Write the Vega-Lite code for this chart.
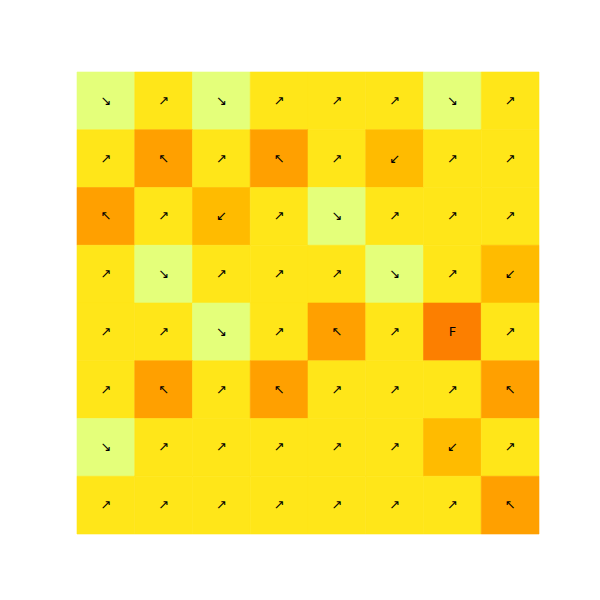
{
  "$schema": "https://vega.github.io/schema/vega-lite/v6.json",
  "autosize": {"type": "none"},
  "padding": {"left": 77, "top": 72, "right": 61, "bottom": 66},
  "width": 462,
  "height": 462,
  "background": "white",
  "config": {"view": {"stroke": null}},
  "data": {"values": [
    {"r":0,"c":0,"a":"↘"},{"r":0,"c":1,"a":"↗"},{"r":0,"c":2,"a":"↘"},{"r":0,"c":3,"a":"↗"},{"r":0,"c":4,"a":"↗"},{"r":0,"c":5,"a":"↗"},{"r":0,"c":6,"a":"↘"},{"r":0,"c":7,"a":"↗"},
    {"r":1,"c":0,"a":"↗"},{"r":1,"c":1,"a":"↖"},{"r":1,"c":2,"a":"↗"},{"r":1,"c":3,"a":"↖"},{"r":1,"c":4,"a":"↗"},{"r":1,"c":5,"a":"↙"},{"r":1,"c":6,"a":"↗"},{"r":1,"c":7,"a":"↗"},
    {"r":2,"c":0,"a":"↖"},{"r":2,"c":1,"a":"↗"},{"r":2,"c":2,"a":"↙"},{"r":2,"c":3,"a":"↗"},{"r":2,"c":4,"a":"↘"},{"r":2,"c":5,"a":"↗"},{"r":2,"c":6,"a":"↗"},{"r":2,"c":7,"a":"↗"},
    {"r":3,"c":0,"a":"↗"},{"r":3,"c":1,"a":"↘"},{"r":3,"c":2,"a":"↗"},{"r":3,"c":3,"a":"↗"},{"r":3,"c":4,"a":"↗"},{"r":3,"c":5,"a":"↘"},{"r":3,"c":6,"a":"↗"},{"r":3,"c":7,"a":"↙"},
    {"r":4,"c":0,"a":"↗"},{"r":4,"c":1,"a":"↗"},{"r":4,"c":2,"a":"↘"},{"r":4,"c":3,"a":"↗"},{"r":4,"c":4,"a":"↖"},{"r":4,"c":5,"a":"↗"},{"r":4,"c":6,"a":"F"},{"r":4,"c":7,"a":"↗"},
    {"r":5,"c":0,"a":"↗"},{"r":5,"c":1,"a":"↖"},{"r":5,"c":2,"a":"↗"},{"r":5,"c":3,"a":"↖"},{"r":5,"c":4,"a":"↗"},{"r":5,"c":5,"a":"↗"},{"r":5,"c":6,"a":"↗"},{"r":5,"c":7,"a":"↖"},
    {"r":6,"c":0,"a":"↘"},{"r":6,"c":1,"a":"↗"},{"r":6,"c":2,"a":"↗"},{"r":6,"c":3,"a":"↗"},{"r":6,"c":4,"a":"↗"},{"r":6,"c":5,"a":"↗"},{"r":6,"c":6,"a":"↙"},{"r":6,"c":7,"a":"↗"},
    {"r":7,"c":0,"a":"↗"},{"r":7,"c":1,"a":"↗"},{"r":7,"c":2,"a":"↗"},{"r":7,"c":3,"a":"↗"},{"r":7,"c":4,"a":"↗"},{"r":7,"c":5,"a":"↗"},{"r":7,"c":6,"a":"↗"},{"r":7,"c":7,"a":"↖"}
  ]},
  "encoding": {
    "x": {"field": "c", "type": "ordinal", "axis": null, "scale": {"paddingInner": 0, "paddingOuter": 0}},
    "y": {"field": "r", "type": "ordinal", "axis": null, "scale": {"paddingInner": 0, "paddingOuter": 0}}
  },
  "layer": [
    {"mark": {"type": "rect", "strokeWidth": 0.6},
     "encoding": {
       "color": {"field": "a", "type": "nominal", "legend": null,
        "scale": {"domain": ["↘","↗","↙","↖","F"], "range": ["#e4ff7a","#ffe619","#ffbb00","#ffa000","#fc7f00"]}},
       "stroke": {"field": "a", "type": "nominal", "legend": null,
        "scale": {"domain": ["↘","↗","↙","↖","F"], "range": ["#e4ff7a","#ffe619","#ffbb00","#ffa000","#fc7f00"]}}}},
    {"mark": {"type": "text", "font": "DejaVu Sans", "fontSize": 13, "color": "black"},
     "encoding": {"text": {"field": "a"}}}
  ]
}
